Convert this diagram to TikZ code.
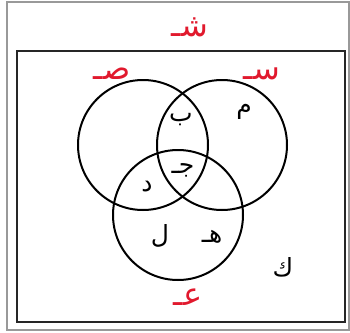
\documentclass[tikz,border=0pt]{standalone}
\usepackage{fontspec}
\newfontfamily\arabicfont[Script=Arabic]{DejaVu Sans}
\TeXXeTstate=1
\definecolor{setred}{RGB}{225,25,45}
\begin{document}
\begin{tikzpicture}[x=1pt,y=-1pt,
  circ/.style={draw=black,line width=2pt},
  elem/.style={font=\arabicfont\fontsize{25}{28}\selectfont,inner sep=0pt},
  setlab/.style={font=\arabicfont\fontsize{32}{36}\selectfont,text=setred,inner sep=0pt}]
\useasboundingbox (0,0) rectangle (350,332);
\fill[white] (0,0) rectangle (350,332);
\draw[draw=gray!80,line width=1.2pt] (7,2) rectangle (349,330);
\draw[draw=black!85,line width=2.6pt] (17,51) rectangle (345,322);
\node[circ,circle,minimum size=130pt,inner sep=0pt] (A) at (143,145) {};
\node[circ,circle,minimum size=130pt,inner sep=0pt] (B) at (222,145) {};
\node[circ,circle,minimum size=130pt,inner sep=0pt] (C) at (178,215) {};
\node[setlab] (U) at (190,27) {\beginR شـ\endR};
\node[setlab] (LA) at (112,74) {\beginR صـ\endR};
\node[setlab] (LB) at (262,74) {\beginR سـ\endR};
\node[setlab] (LC) at (188,297) {\beginR عـ\endR};
\node[elem] (m) at (244,112) {\beginR م\endR};
\node[elem] (b) at (181,120) {\beginR ب\endR};
\node[elem] (j) at (183,170) {\beginR جـ\endR};
\node[elem] (d) at (147,187) {\beginR د\endR};
\node[elem] (h) at (212,237) {\beginR هـ\endR};
\node[elem] (l) at (160,236) {\beginR ل\endR};
\node[elem] (k) at (283,267) {\beginR ك\endR};
\end{tikzpicture}
\end{document}
